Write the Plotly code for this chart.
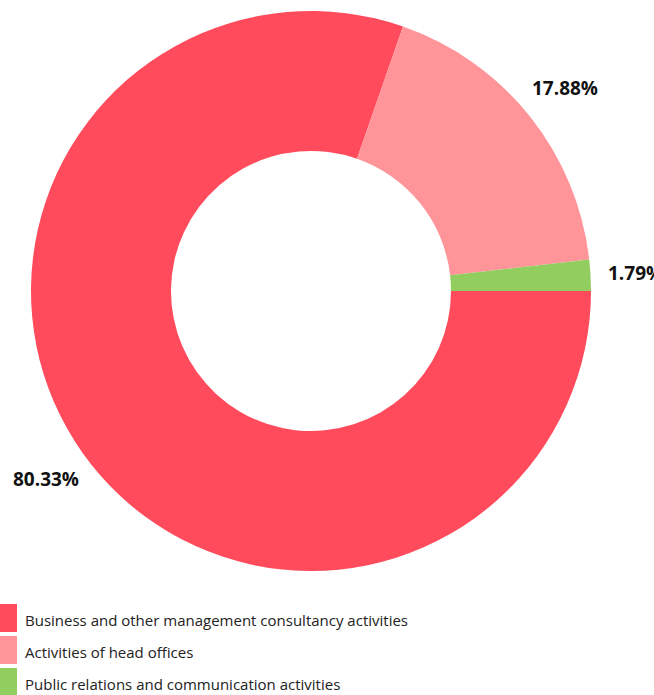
import math
import plotly.graph_objects as go

categories = [
    "Business and other management consultancy activities",
    "Activities of head offices",
    "Public relations and communication activities",
]
shares = [80.33, 17.88, 1.79]
colors = ["#FF4B5C", "#FF9499", "#92CD5F"]

W, H = 654, 695
CX, CY, R = 311, 291, 280          # donut centre / radius in pixels
LABEL_R = 1.16                     # label distance relative to radius
START_DEG = 0                      # slices start at 3 o'clock, clockwise

fig = go.Figure()
fig.add_trace(go.Pie(
    labels=categories,
    values=shares,
    hole=0.5,
    sort=False,
    direction="clockwise",
    rotation=90,
    marker=dict(colors=colors, line=dict(width=0)),
    textinfo="none",
    showlegend=False,
    domain=dict(x=[(CX - R) / W, (CX + R) / W], y=[1 - (CY + R) / H, 1 - (CY - R) / H]),
))

# percentage labels placed outside each slice at its mid-angle
total = sum(shares)
cum = 0.0
for v in shares:
    mid = cum + v / 2
    cum += v
    ang = math.radians(START_DEG - 360 * mid / total)   # clockwise in screen terms
    px = CX + LABEL_R * R * math.cos(ang)
    py = CY - LABEL_R * R * math.sin(ang)
    fig.add_annotation(xref="paper", yref="paper", x=px / W, y=1 - py / H,
                       text=f"<b>{100 * v / total:.2f}%</b>", showarrow=False,
                       xanchor="center", yanchor="middle",
                       font=dict(family="Open Sans", size=19, color="#111111"))

# custom legend (tall colour blocks)
legend_top = 604
step = 32
for i, (name, col) in enumerate(zip(categories, colors)):
    y0 = legend_top + i * step
    fig.add_shape(type="rect", xref="paper", yref="paper",
                  x0=0, x1=17 / W, y0=1 - (y0 + 28) / H, y1=1 - y0 / H,
                  fillcolor=col, line=dict(width=0))
    fig.add_annotation(xref="paper", yref="paper", x=23 / W, y=1 - (y0 + 16) / H,
                       text=name, showarrow=False, xanchor="left", yanchor="middle",
                       font=dict(family="Open Sans", size=15, color="#222222"))

fig.update_layout(
    width=W, height=H,
    margin=dict(l=0, r=0, t=0, b=0),
    paper_bgcolor="white", plot_bgcolor="white",
)
fig.write_html("out.html", config={"displayModeBar": False},
               post_script="document.body.style.margin='0px';")
